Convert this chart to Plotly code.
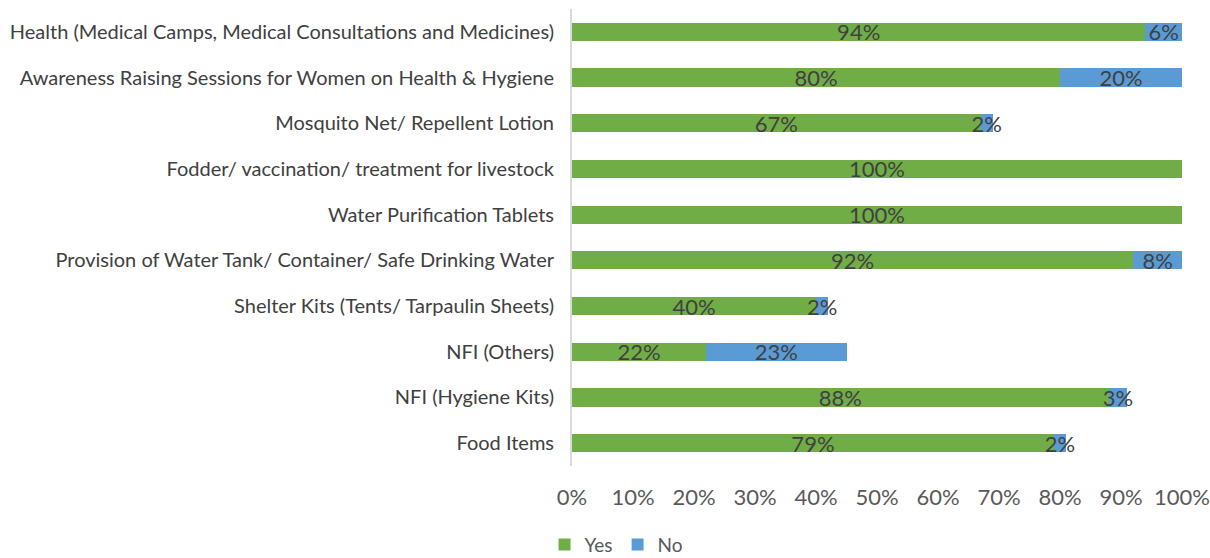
import plotly.graph_objects as go

categories = [
    "Health (Medical Camps, Medical Consultations and Medicines)",
    "Awareness Raising Sessions for Women on Health & Hygiene",
    "Mosquito Net/ Repellent Lotion",
    "Fodder/ vaccination/ treatment for livestock",
    "Water Purification Tablets",
    "Provision of Water Tank/ Container/ Safe Drinking Water",
    "Shelter Kits (Tents/ Tarpaulin Sheets)",
    "NFI (Others)",
    "NFI (Hygiene Kits)",
    "Food Items",
]
yes_values = [94, 80, 67, 100, 100, 92, 40, 22, 88, 79]
no_values = [6, 20, 2, 0, 0, 8, 2, 23, 3, 2]
tick_values = [0, 10, 20, 30, 40, 50, 60, 70, 80, 90, 100]
tick_labels = [f"{v}%" for v in tick_values]

FONT = "Lato, 'Open Sans', sans-serif"
LABEL_COLOR = "#404040"


def pct_text(values):
    return [f"{v}%" if v else "" for v in values]


fig = go.Figure()
fig.add_trace(go.Bar(
    name="Yes", y=categories, x=yes_values, orientation="h",
    marker=dict(color="#70AD47", line=dict(width=0)),
    text=pct_text(yes_values), textposition="inside", insidetextanchor="middle",
    textangle=0, textfont=dict(size=22, color=LABEL_COLOR, family=FONT),
    hoverinfo="skip",
))
fig.add_trace(go.Bar(
    name="No", y=categories, x=no_values, orientation="h",
    marker=dict(color="#5B9BD5", line=dict(width=0)),
    text=pct_text(no_values), textposition="inside", insidetextanchor="middle",
    textangle=0, textfont=dict(size=22, color=LABEL_COLOR, family=FONT),
    hoverinfo="skip",
))

fig.update_layout(
    barmode="stack",
    bargap=0.6,
    width=1210, height=558,
    margin=dict(l=572, r=28, t=9, b=92, autoexpand=False),
    paper_bgcolor="white", plot_bgcolor="white",
    font=dict(family=FONT, size=20, color="#595959"),
    uniformtext=dict(minsize=22, mode="show"),
    showlegend=True,
    legend=dict(
        orientation="h", x=-0.045, xanchor="left", y=-0.172, yanchor="middle",
        font=dict(size=19, color="#595959"), itemsizing="constant",
        traceorder="normal", tracegroupgap=0, itemwidth=30,
    ),
    xaxis=dict(
        range=[0, 100], tickvals=tick_values, ticktext=tick_labels,
        showgrid=False, zeroline=False, showline=False, ticks="",
        tickfont=dict(size=22, color="#595959"), ticklabelstandoff=16,
        fixedrange=True, automargin=False,
    ),
    yaxis=dict(
        autorange="reversed", showgrid=False, zeroline=False,
        showline=True, linecolor="#D9D9D9", linewidth=2, ticks="",
        tickfont=dict(size=20, color=LABEL_COLOR), ticklabelstandoff=12,
        fixedrange=True, automargin=False,
    ),
)

fig.write_html("out.html")
